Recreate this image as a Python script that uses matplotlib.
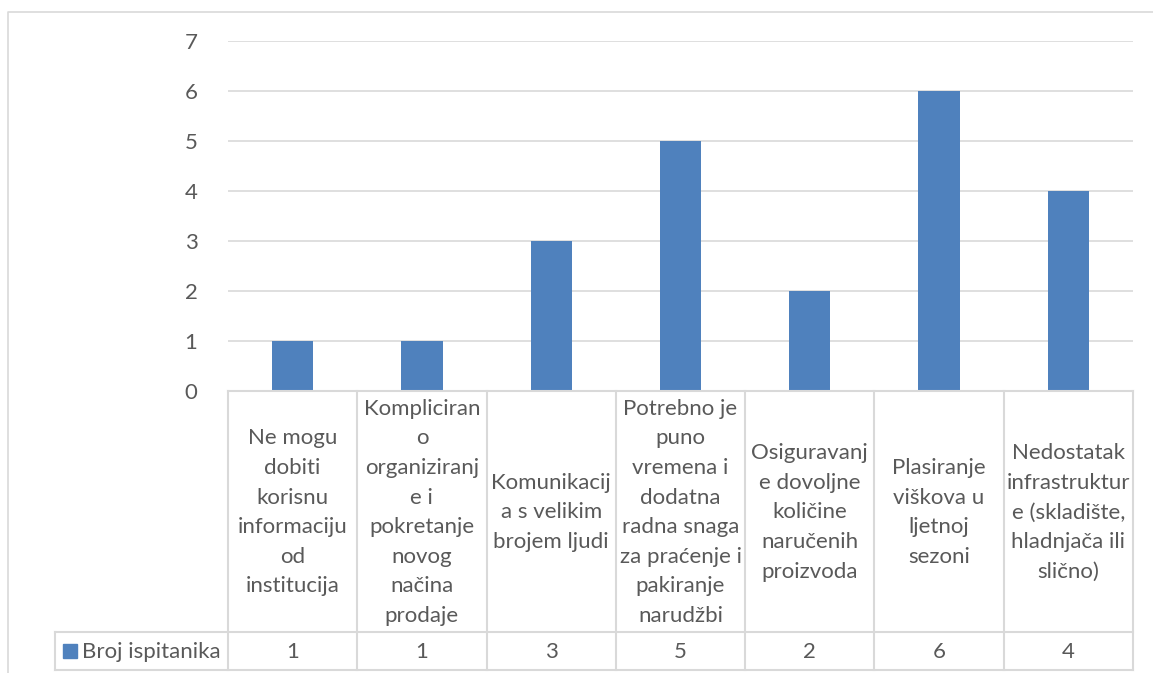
import matplotlib.pyplot as plt

# survey answers: problems with direct selling
categories = [
    "Ne mogu\ndobiti\nkorisnu\ninformaciju\nod\ninstitucija",
    "Kompliciran\no\norganiziranj\ne i\npokretanje\nnovog\nnačina\nprodaje",
    "Komunikacij\na s velikim\nbrojem ljudi",
    "Potrebno je\npuno\nvremena i\ndodatna\nradna snaga\nza praćenje i\npakiranje\nnarudžbi",
    "Osiguravanj\ne dovoljne\nkoličine\nnaručenih\nproizvoda",
    "Plasiranje\nviškova u\nljetnoj\nsezoni",
    "Nedostatak\ninfrastruktur\ne (skladište,\nhladnjača ili\nslično)",
]
series_name = "Broj ispitanika"
values = [1, 1, 3, 5, 2, 6, 4]
y_ticks = [0, 1, 2, 3, 4, 5, 6, 7]

BAR = "#4F81BD"
GRID = "#D9D9D9"
TXT = "#595959"
FONT = "Lato"
FS = 16

W, H = 1153, 673
fig = plt.figure(figsize=(W / 100, H / 100), dpi=100)

# pixel layout of plot area and table
x0, x1 = 228, 1133
y_top, y_zero = 41, 391
y_row, y_bot = 632, 670
leg_x = 55

ax = fig.add_axes([x0 / W, 1 - y_zero / H, (x1 - x0) / W, (y_zero - y_top) / H])
n = len(values)
ax.bar(range(n), values, width=0.32, color=BAR, zorder=3)
ax.set_xlim(-0.5, n - 0.5)
ax.set_ylim(0, 7)
ax.set_yticks(y_ticks)
ax.set_yticklabels([str(t) for t in y_ticks], fontsize=FS, color=TXT, family=FONT)
ax.tick_params(axis="y", length=0, pad=22)
ax.tick_params(axis="x", length=0, labelbottom=False)
for s in ax.spines.values():
    s.set_visible(False)
ax.grid(axis="y", color=GRID, lw=1.2, zorder=0)
ax.set_axisbelow(True)

# overlay in pixel coordinates for border and data table
ov = fig.add_axes([0, 0, 1, 1], zorder=-1)
ov.set_xlim(0, W)
ov.set_ylim(H, 0)
ov.axis("off")
ov.plot([8, 8, W + 5], [H + 5, 12, 12], color=GRID, lw=1.2)

top = fig.add_axes([0, 0, 1, 1], zorder=5)
top.set_xlim(0, W)
top.set_ylim(H, 0)
top.axis("off")
top.patch.set_alpha(0)

cw = (x1 - x0) / n
lk = dict(color=GRID, lw=1.5)
top.plot([x0, x1], [y_zero, y_zero], **lk)
top.plot([leg_x, x1], [y_row, y_row], **lk)
top.plot([leg_x, x1], [y_bot, y_bot], **lk)
top.plot([leg_x, leg_x], [y_row, y_bot], **lk)
for i in range(n + 1):
    xx = x0 + i * cw
    top.plot([xx, xx], [y_zero, y_bot], **lk)

for i, (lab, v) in enumerate(zip(categories, values)):
    cx = x0 + (i + 0.5) * cw
    top.text(cx, (y_zero + y_row) / 2 + 1, lab, ha="center", va="center",
             fontsize=FS, color=TXT, family=FONT, linespacing=1.6,
             multialignment="center")
    top.text(cx, (y_row + y_bot) / 2 + 1, str(v), ha="center", va="center",
             fontsize=FS, color=TXT, family=FONT)

top.add_patch(plt.Rectangle((63, 644), 14, 14, color=BAR))
top.text(82, (y_row + y_bot) / 2 + 1, series_name, ha="left", va="center",
         fontsize=FS, color=TXT, family=FONT)

fig.savefig("out.png", dpi=100)
